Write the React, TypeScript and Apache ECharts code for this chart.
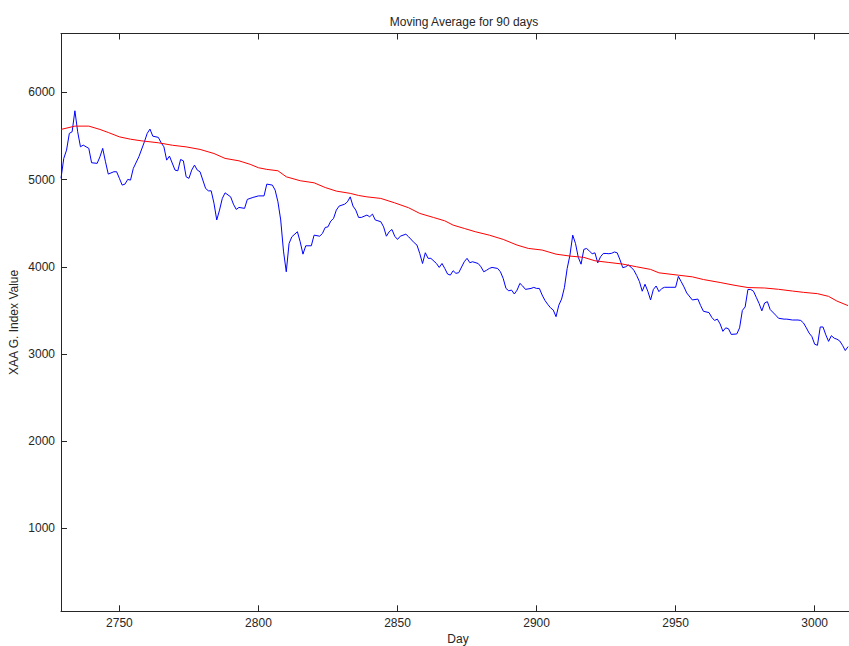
import React, { useEffect, useRef } from "react";
import * as echarts from "echarts";

// Daily index values (day number, value)
const indexDays = [
  2729, 2730, 2731, 2732, 2733, 2734, 2735, 2736, 2737, 2739, 2740, 2742, 2743, 2744, 2745, 2746, 2748, 2749,
  2750, 2751, 2752, 2753, 2754, 2755, 2757, 2759, 2760, 2761, 2762, 2764, 2765, 2766, 2767, 2768, 2770, 2771,
  2772, 2773, 2774, 2775, 2776, 2777, 2778, 2779, 2781, 2782, 2783, 2784, 2785, 2786, 2787, 2788, 2790, 2791,
  2792, 2793, 2795, 2796, 2798, 2800, 2802, 2803, 2805, 2806, 2807, 2808, 2809, 2810, 2811, 2812, 2814, 2815,
  2816, 2817, 2819, 2820, 2822, 2823, 2824, 2825, 2826, 2827, 2828, 2829, 2831, 2832, 2833, 2834, 2835, 2836,
  2837, 2839, 2840, 2841, 2842, 2844, 2845, 2846, 2847, 2848, 2849, 2850, 2851, 2853, 2854, 2856, 2857, 2858,
  2859, 2860, 2861, 2862, 2864, 2865, 2866, 2867, 2868, 2869, 2870, 2871, 2872, 2874, 2875, 2876, 2877, 2879,
  2880, 2881, 2882, 2883, 2884, 2886, 2887, 2888, 2889, 2890, 2891, 2892, 2893, 2894, 2895, 2896, 2898, 2899,
  2900, 2901, 2902, 2903, 2904, 2905, 2906, 2907, 2908, 2909, 2910, 2911, 2912, 2913, 2914, 2915, 2916, 2917,
  2918, 2919, 2920, 2921, 2922, 2923, 2924, 2925, 2926, 2927, 2928, 2929, 2930, 2931, 2932, 2933, 2934, 2935,
  2936, 2937, 2938, 2939, 2940, 2941, 2942, 2943, 2944, 2945, 2946, 2948, 2950, 2951, 2952, 2953, 2954, 2956,
  2958, 2959, 2960, 2962, 2963, 2964, 2965, 2966, 2967, 2968, 2969, 2970, 2972, 2973, 2974, 2975, 2976, 2977,
  2978, 2979, 2980, 2981, 2982, 2983, 2984, 2986, 2987, 2989, 2990, 2992, 2994, 2995, 2996, 2997, 2998, 2999,
  3000, 3001, 3002, 3003, 3004, 3005, 3006, 3007, 3008, 3009, 3010, 3011, 3012,
];
const indexValues = [
  5015, 5243, 5338, 5530, 5548, 5789, 5548, 5376, 5395, 5358, 5193, 5186, 5261, 5358, 5204, 5063, 5090, 5090,
  5014, 4937, 4948, 5002, 4994, 5128, 5262, 5434, 5530, 5579, 5498, 5484, 5422, 5376, 5223, 5269, 5109, 5101,
  5231, 5215, 5032, 5014, 5109, 5166, 5109, 5090, 4898, 4871, 4871, 4730, 4537, 4650, 4784, 4848, 4802, 4718,
  4658, 4681, 4670, 4773, 4795, 4813, 4813, 4948, 4937, 4879, 4745, 4537, 4180, 3943, 4267, 4344, 4402, 4287,
  4145, 4241, 4241, 4363, 4351, 4382, 4451, 4458, 4524, 4554, 4650, 4696, 4718, 4745, 4802, 4696, 4650, 4566,
  4566, 4593, 4574, 4604, 4537, 4517, 4458, 4351, 4402, 4428, 4351, 4314, 4351, 4374, 4344, 4276, 4249, 4153,
  4038, 4161, 4097, 4097, 4038, 3993, 4038, 3981, 3917, 3905, 3955, 3925, 3932, 4058, 4097, 4047, 4058, 4038,
  4000, 3943, 3960, 3981, 3993, 3981, 3943, 3867, 3752, 3725, 3733, 3688, 3733, 3810, 3780, 3741, 3752, 3764,
  3752, 3752, 3677, 3615, 3570, 3530, 3504, 3428, 3560, 3630, 3760, 3980, 4134, 4363, 4267, 4108, 4030, 4200,
  4210, 4180, 4150, 4160, 4045, 4115, 4153, 4153, 4150, 4155, 4170, 4160, 4080, 3990, 4000, 4020, 3995, 3960,
  3900, 3830, 3720, 3800, 3720, 3620, 3740, 3780, 3715, 3750, 3765, 3765, 3765, 3890, 3830, 3770, 3700, 3620,
  3630, 3555, 3490, 3475, 3420, 3385, 3400, 3345, 3260, 3300, 3290, 3225, 3230, 3300, 3500, 3540, 3740, 3740,
  3720, 3650, 3580, 3495, 3585, 3600, 3510, 3445, 3410, 3400, 3400, 3390, 3390, 3385, 3355, 3300, 3240, 3200,
  3112, 3100, 3310, 3310, 3220, 3145, 3210, 3182, 3170, 3150, 3100, 3040, 3085,
];

// 90-day moving average
const maDays = [
  2729, 2734, 2739, 2743, 2746, 2750, 2754, 2758, 2764, 2769, 2774, 2779, 2784, 2788, 2793, 2797, 2800, 2803,
  2807, 2810, 2815, 2820, 2824, 2828, 2833, 2836, 2839, 2844, 2849, 2854, 2858, 2863, 2867, 2870, 2874, 2878,
  2883, 2888, 2893, 2897, 2902, 2907, 2912, 2917, 2921, 2926, 2931, 2936, 2941, 2944, 2951, 2956, 2960, 2966,
  2971, 2976, 2982, 2987, 2992, 2996, 3001, 3005, 3008, 3012,
];
const maValues = [
  5575, 5613, 5613, 5575, 5540, 5490, 5463, 5444, 5422, 5394, 5375, 5346, 5299, 5243, 5215, 5175, 5136, 5117,
  5101, 5032, 4987, 4963, 4909, 4868, 4842, 4818, 4802, 4784, 4733, 4677, 4612, 4565, 4527, 4478, 4440, 4402,
  4363, 4314, 4249, 4211, 4192, 4145, 4123, 4108, 4069, 4050, 4031, 4000, 3970, 3931, 3904, 3885, 3854, 3820,
  3789, 3762, 3757, 3742, 3722, 3707, 3692, 3661, 3607, 3555,
];

const dayTicks = [2750, 2800, 2850, 2900, 2950, 3000];
const valueTicks = [1000, 2000, 3000, 4000, 5000, 6000];

const FONT = "Liberation Sans, Arial, sans-serif";
const INK = "#262626";
const plain = (v: number) => String(v);

export default function App() {
  const ref = useRef<HTMLDivElement>(null);

  useEffect(() => {
    if (!ref.current) return;
    const chart = echarts.init(ref.current, undefined, { renderer: "svg" });

    const indexData = indexDays.map((d, i) => [d, indexValues[i]]);
    const maData = maDays.map((d, i) => [d, maValues[i]]);

    const xBase = {
      type: "value" as const,
      min: 2729,
      max: 3014.5,
      splitLine: { show: false },
      axisLine: { show: true, onZero: false, lineStyle: { color: INK, width: 1 } },
    };

    chart.setOption({
      animation: false,
      backgroundColor: "#ffffff",
      title: {
        text: "Moving Average for 90 days",
        left: 459,
        top: 11,
        textAlign: "center",
        textStyle: { fontFamily: FONT, fontSize: 12, fontWeight: "normal", color: INK },
      },
      grid: {
        left: 61,
        right: -6,
        top: 33.5,
        bottom: 34.7,
        containLabel: false,
        outerBoundsMode: "none",
      },
      xAxis: [
        {
          ...xBase,
          position: "bottom",
          name: "Day",
          nameLocation: "middle",
          nameGap: 22,
          nameMoveOverlap: false,
          nameTextStyle: { fontFamily: FONT, fontSize: 12, color: INK },
          axisTick: { show: true, inside: true, length: 6, customValues: dayTicks, lineStyle: { color: INK } },
          axisLabel: {
            customValues: dayTicks,
            formatter: plain,
            margin: 6,
            fontFamily: FONT,
            fontSize: 12,
            color: INK,
          },
        },
        {
          ...xBase,
          position: "top",
          axisTick: { show: true, inside: true, length: 6, customValues: dayTicks, lineStyle: { color: INK } },
          axisLabel: { show: false },
        },
      ],
      yAxis: {
        type: "value",
        min: 50,
        max: 6675,
        name: "XAA G. Index Value",
        nameLocation: "middle",
        nameRotate: 90,
        nameGap: 41,
        nameMoveOverlap: false,
        nameTextStyle: { fontFamily: FONT, fontSize: 12, color: INK },
        splitLine: { show: false },
        axisLine: { show: true, onZero: false, lineStyle: { color: INK, width: 1 } },
        axisTick: { show: true, inside: true, length: 6, customValues: valueTicks, lineStyle: { color: INK } },
        axisLabel: {
          customValues: valueTicks,
          formatter: plain,
          margin: 6,
          fontFamily: FONT,
          fontSize: 12,
          color: INK,
        },
      },
      series: [
        {
          name: "Index",
          type: "line",
          xAxisIndex: 0,
          data: indexData,
          showSymbol: false,
          lineStyle: { color: "#0000ff", width: 1 },
          itemStyle: { color: "#0000ff" },
        },
        {
          name: "Moving average",
          type: "line",
          xAxisIndex: 0,
          data: maData,
          showSymbol: false,
          lineStyle: { color: "#ff0000", width: 1 },
          itemStyle: { color: "#ff0000" },
        },
      ],
    });

    return () => chart.dispose();
  }, []);

  return (
    <div
      ref={ref}
      style={{ position: "fixed", left: 0, top: 0, width: 849, height: 646, background: "#fff" }}
    />
  );
}
